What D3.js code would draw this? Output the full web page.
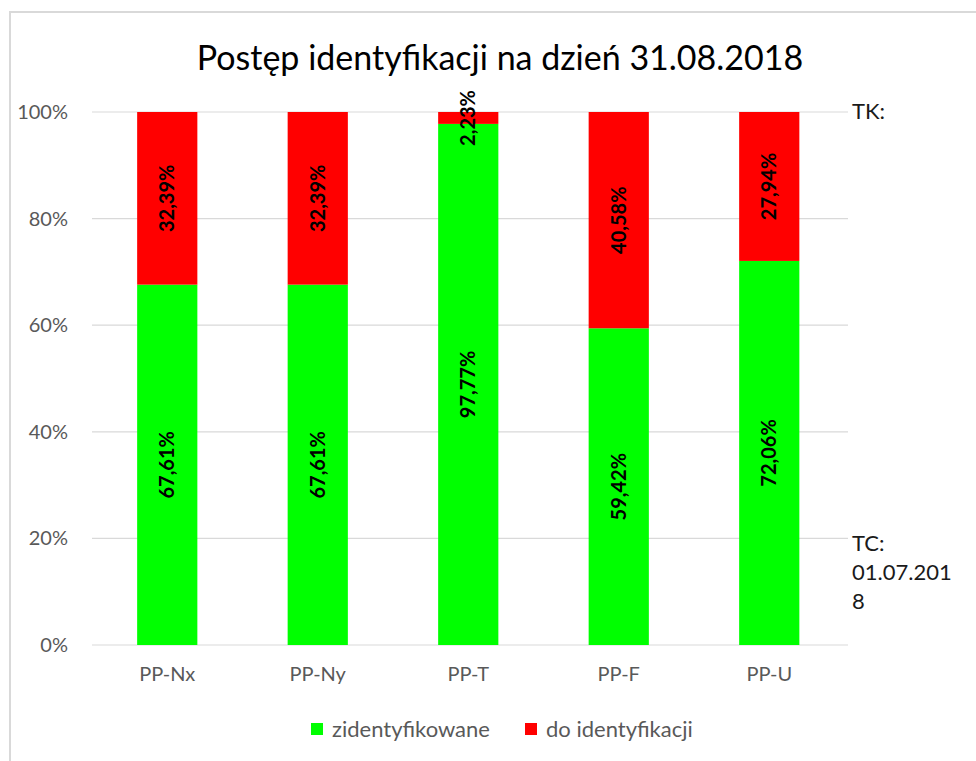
<!DOCTYPE html>
<html lang="pl">
<head>
  <meta charset="UTF-8">
  <title>Postęp identyfikacji</title>
  <script src="https://d3js.org/d3.v7.min.js"></script>
  <style>
    body { margin: 0; background: #fff; }
    text { font-family: Lato, "Open Sans", sans-serif; }
  </style>
</head>
<body>
  <div id="chart"></div>
  <script>
    const categories = ["PP-Nx", "PP-Ny", "PP-T", "PP-F", "PP-U"];
    const identified = [67.61, 67.61, 97.77, 59.42, 72.06];
    const toIdentify = [32.39, 32.39, 2.23, 40.58, 27.94];
    const yTicks = [0, 20, 40, 60, 80, 100];
    const seriesNames = ["zidentyfikowane", "do identyfikacji"];
    const seriesColors = ["#00ff00", "#ff0000"];

    const width = 976, height = 761;
    const margin = { top: 112, right: 131, bottom: 116, left: 92 };

    const svg = d3.select("#chart").append("svg")
      .attr("width", width)
      .attr("height", height);

    // chart frame (cut off on right and bottom)
    svg.append("rect")
      .attr("x", 10).attr("y", 12)
      .attr("width", width + 20).attr("height", height + 20)
      .attr("fill", "none")
      .attr("stroke", "#d9d9d9")
      .attr("stroke-width", 2);

    svg.append("text")
      .attr("x", 500).attr("y", 70)
      .attr("text-anchor", "middle")
      .attr("font-size", "34px")
      .attr("fill", "#000")
      .text("Postęp identyfikacji na dzień 31.08.2018");

    const x = d3.scaleBand()
      .domain(categories)
      .range([margin.left, width - margin.right - 0.5])
      .paddingInner(0.6)
      .paddingOuter(0.3);

    const y = d3.scaleLinear()
      .domain([0, 100])
      .range([height - margin.bottom, margin.top]);

    // gridlines
    svg.append("g")
      .selectAll("line")
      .data(yTicks)
      .enter().append("line")
      .attr("x1", margin.left)
      .attr("x2", 848)
      .attr("y1", d => y(d))
      .attr("y2", d => y(d))
      .attr("stroke", "#d9d9d9")
      .attr("stroke-width", 1.2);

    const yAxis = d3.axisLeft(y).tickValues(yTicks).tickFormat(d => d + "%").tickSize(0).tickPadding(0);
    const yg = svg.append("g")
      .attr("transform", `translate(68,0)`)
      .call(yAxis);
    yg.select(".domain").remove();
    yg.selectAll("text")
      .attr("font-size", "20px")
      .attr("fill", "#595959")
      .attr("font-family", "Lato, 'Open Sans', sans-serif");

    const xAxis = d3.axisBottom(x).tickSize(0).tickPadding(0);
    const xg = svg.append("g")
      .attr("transform", `translate(0,${height - margin.bottom + 22})`)
      .call(xAxis);
    xg.select(".domain").remove();
    xg.selectAll("text")
      .attr("font-size", "20px")
      .attr("fill", "#595959")
      .attr("font-family", "Lato, 'Open Sans', sans-serif");

    const rows = categories.map((c, i) => ({ cat: c, vals: [identified[i], toIdentify[i]] }));
    const segs = [];
    rows.forEach(r => {
      let base = 0;
      r.vals.forEach((v, s) => {
        segs.push({ cat: r.cat, s: s, y0: base, y1: base + v, v: v });
        base += v;
      });
    });

    svg.append("g").selectAll("rect")
      .data(segs)
      .enter().append("rect")
      .attr("x", d => x(d.cat))
      .attr("width", x.bandwidth())
      .attr("y", d => y(Math.min(d.y1, 100)))
      .attr("height", d => y(d.y0) - y(Math.min(d.y1, 100)))
      .attr("fill", d => seriesColors[d.s]);

    const fmt = v => v.toFixed(2).replace(".", ",") + "%";
    svg.append("g").selectAll("text")
      .data(segs)
      .enter().append("text")
      .attr("transform", d => {
        const cx = x(d.cat) + x.bandwidth() / 2;
        const cy = y((d.y0 + Math.min(d.y1, 100)) / 2);
        return `translate(${cx},${cy}) rotate(-90)`;
      })
      .attr("text-anchor", "middle")
      .attr("dy", "0.35em")
      .attr("font-size", "20px")
      .attr("font-weight", "bold")
      .attr("fill", "#000")
      .text(d => fmt(d.v));

    // side notes
    svg.append("text")
      .attr("x", 852).attr("y", 119)
      .attr("font-size", "22px")
      .attr("fill", "#1a1a1a")
      .text("TK:");
    const tc = ["TC:", "01.07.201", "8"];
    svg.append("g").selectAll("text")
      .data(tc)
      .enter().append("text")
      .attr("x", 852)
      .attr("y", (d, i) => 551 + i * 29)
      .attr("font-size", "22px")
      .attr("fill", "#1a1a1a")
      .text(d => d);

    // legend
    const legendX = [311, 525];
    const lg = svg.append("g");
    seriesNames.forEach((n, i) => {
      lg.append("rect")
        .attr("x", legendX[i]).attr("y", 723)
        .attr("width", 12).attr("height", 12)
        .attr("fill", seriesColors[i]);
      lg.append("text")
        .attr("x", legendX[i] + 21).attr("y", 737)
        .attr("font-size", "22px")
        .attr("fill", "#595959")
        .text(n);
    });
  </script>
</body>
</html>
